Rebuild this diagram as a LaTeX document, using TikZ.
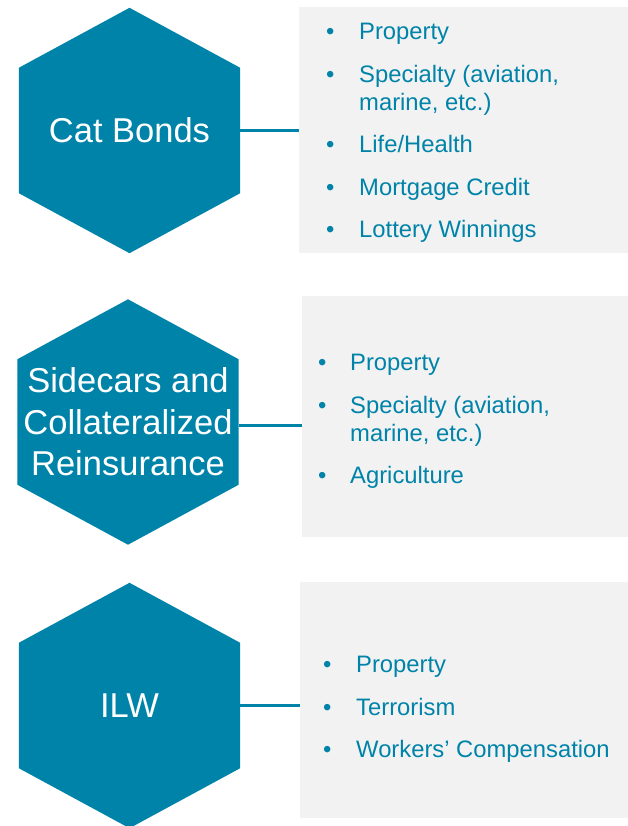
\documentclass[tikz,border=0pt]{standalone}
\usepackage{fontspec}
\setmainfont{Liberation Sans}
\usetikzlibrary{backgrounds}
\definecolor{hexblue}{HTML}{0083A9}
\definecolor{boxgray}{HTML}{F2F2F2}
\newcommand{\bul}{\textbullet}

\begin{document}
\begin{tikzpicture}[x=1pt,y=-1pt,
        hexcell/.style={rectangle,inner sep=0pt,minimum width=221pt,minimum height=125pt,
                        align=center,text=white,font=\fontsize{34.5}{41.5}\selectfont},
        listbox/.style={rectangle,fill=boxgray,inner sep=0pt,anchor=north west},
        itemlist/.style={inner sep=0pt,anchor=north west,text=hexblue,
                         font=\fontsize{23.8}{28}\selectfont},
        link/.style={draw=hexblue,line width=3pt}]
        \useasboundingbox (0,0) rectangle (628,826);
        \node[hexcell] (cat)  at (129.5,130.5) {Cat Bonds};
        \node[hexcell] (side) at (128,422)     {Sidecars and\\Collateralized\\Reinsurance};
        \node[hexcell] (ilw)  at (129.5,705.5) {ILW};
        \begin{scope}[on background layer]
        \foreach \h in {cat,side,ilw}
            \fill[hexblue] (\h.north west) -- ([yshift=60pt]\h.north) -- (\h.north east)
                -- (\h.south east) -- ([yshift=-60pt]\h.south) -- (\h.south west) -- cycle;
        \end{scope}
        \node[listbox,minimum width=329pt,minimum height=246pt] (catbox)  at (299,7)   {};
        \node[listbox,minimum width=326pt,minimum height=241pt] (sidebox) at (302,296) {};
        \node[listbox,minimum width=328pt,minimum height=236pt] (ilwbox)  at (300,582) {};
        \node[itemlist] (catlist) at (326,20) {\begin{tabular}{@{}p{33pt}@{}l@{}}
            \bul & Property\\[14.5pt]
            \bul & Specialty (aviation,\\
                 & marine, etc.)\\[14.5pt]
            \bul & Life/Health\\[14.5pt]
            \bul & Mortgage Credit\\[14.5pt]
            \bul & Lottery Winnings
            \end{tabular}};
        \node[itemlist] (sidelist) at (318,351) {\begin{tabular}{@{}p{32pt}@{}l@{}}
            \bul & Property\\[14.5pt]
            \bul & Specialty (aviation,\\
                 & marine, etc.)\\[14.5pt]
            \bul & Agriculture
            \end{tabular}};
        \node[itemlist] (ilwlist) at (323,653) {\begin{tabular}{@{}p{33pt}@{}l@{}}
            \bul & Property\\[14.5pt]
            \bul & Terrorism\\[14.5pt]
            \bul & Workers' Compensation
            \end{tabular}};
        \draw[link] (cat.east)  -- (cat.east -| catbox.west);
        \draw[link] ([yshift=-3pt]side.east) -- ([yshift=-3pt]side.east -| sidebox.west);
        \draw[link] (ilw.east)  -- (ilw.east -| ilwbox.west);
\end{tikzpicture}
\end{document}
